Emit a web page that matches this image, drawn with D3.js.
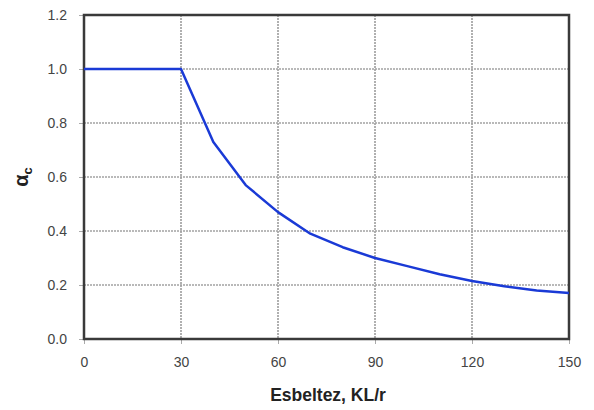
<!DOCTYPE html>
<html><head><meta charset="utf-8">
<script src="https://cdn.jsdelivr.net/npm/d3@7"></script>
<style>body{margin:0;background:#fff}svg{display:block}text{font-family:"Liberation Sans",Arial,sans-serif}</style>
</head><body><svg id="c" width="594" height="410"></svg>
<script>
const slenderness = [0, 10, 20, 30, 40, 50, 60, 70, 80, 90, 100, 110, 120, 130, 140, 150];
const alphaC = [1.0, 1.0, 1.0, 1.0, 0.73, 0.57, 0.47, 0.39, 0.34, 0.30, 0.27, 0.24, 0.215, 0.195, 0.18, 0.17];
const xTicks = [0, 30, 60, 90, 120, 150];
const yTicks = [0.0, 0.2, 0.4, 0.6, 0.8, 1.0, 1.2];

const svg = d3.select("#c");
const x = d3.scaleLinear().domain([0, 150]).range([84, 569]);
const y = d3.scaleLinear().domain([0, 1.2]).range([339, 15]);

// grid
const g = svg.append("g");
g.selectAll(".gx").data(xTicks).join("line")
  .attr("x1", d => x(d)).attr("x2", d => x(d)).attr("y1", y(1.2)).attr("y2", y(0))
  .attr("stroke", "#a3a3a3").attr("stroke-width", 1.7).attr("stroke-dasharray", "2,1");
g.selectAll(".gy").data(yTicks).join("line")
  .attr("y1", d => y(d)).attr("y2", d => y(d)).attr("x1", x(0)).attr("x2", x(150))
  .attr("stroke", "#a3a3a3").attr("stroke-width", 1.7).attr("stroke-dasharray", "2,1");

// axes
const xAxis = svg.append("g").attr("transform", `translate(0,${y(0)})`)
  .call(d3.axisBottom(x).tickValues(xTicks).tickSize(5).tickPadding(13).tickFormat(d3.format("d")));
const yAxis = svg.append("g").attr("transform", `translate(${x(0)},0)`)
  .call(d3.axisLeft(y).tickValues(yTicks).tickSize(5).tickPadding(12).tickFormat(d3.format(".1f")));
[xAxis, yAxis].forEach(a => {
  a.select(".domain").remove();
  a.selectAll(".tick line").attr("stroke", "#aaa");
  a.selectAll(".tick text").attr("fill", "#444").style("font-size", "14px");
});

// frame
svg.append("rect").attr("x", x(0)).attr("y", y(1.2)).attr("width", x(150) - x(0)).attr("height", y(0) - y(1.2))
  .attr("fill", "none").attr("stroke", "#3a3a3a").attr("stroke-width", 2.5);

// line
svg.append("path").datum(slenderness.map((s, i) => [s, alphaC[i]]))
  .attr("fill", "none").attr("stroke", "#1a3ad6").attr("stroke-width", 2.5)
  .attr("stroke-linejoin", "round")
  .attr("d", d3.line().x(d => x(d[0])).y(d => y(d[1])));

// labels
svg.append("text").attr("x", 328).attr("y", 401).attr("text-anchor", "middle")
  .style("font-size", "17.5px").style("font-weight", "bold").attr("fill", "#222").text("Esbeltez, KL/r");
const yl = svg.append("text").attr("transform", "translate(28,177) rotate(-90)").attr("text-anchor", "middle")
  .style("font-size", "20px").style("font-weight", "bold").attr("fill", "#222");
yl.append("tspan").text("α");
yl.append("tspan").attr("dy", 4).style("font-size", "13px").text("c");
</script></body></html>
